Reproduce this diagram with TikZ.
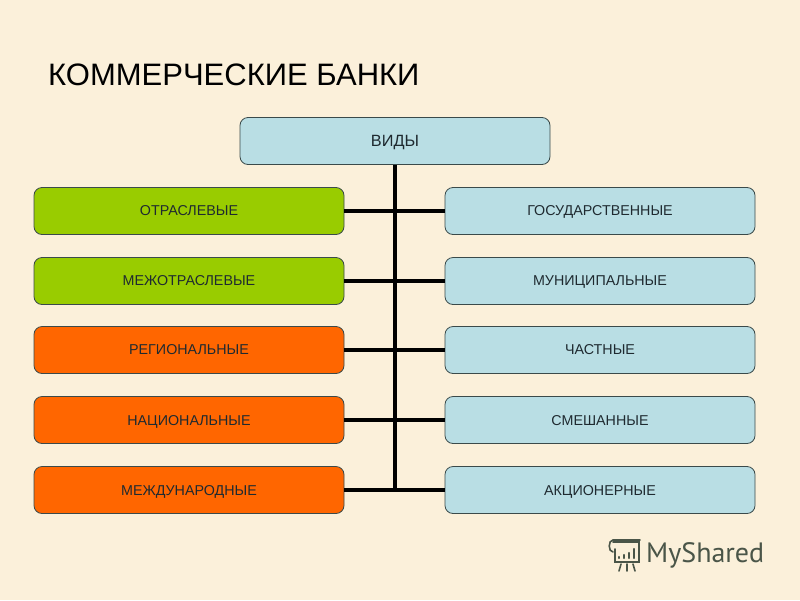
\documentclass[tikz,border=0pt]{standalone}
\usepackage{fontspec}
\setmainfont{Liberation Sans}
\newfontfamily\logofont{PT Sans}
\definecolor{bgc}{HTML}{FBF0DA}
\definecolor{bluebox}{HTML}{B9DEE4}
\definecolor{greenbox}{HTML}{99CC00}
\definecolor{orangebox}{HTML}{FF6600}
\definecolor{edgec}{HTML}{3A4A4A}
\definecolor{txtc}{HTML}{1F2A30}
\definecolor{logoc}{HTML}{4A5548}
\tikzset{
  x=1pt,y=-1pt,
  boxbase/.style={draw=edgec,line width=0.8pt,rounded corners=8pt,minimum height=47pt,inner sep=0pt,text=txtc,text depth=-1pt,font=\fontsize{14.3pt}{16pt}\selectfont},
  sidebox/.style={boxbase,minimum width=310pt},
  blue/.style={fill=bluebox},
  green/.style={fill=greenbox},
  orange/.style={fill=orangebox},
  link/.style={line width=3.6pt,draw=black},
  logo/.style={draw=logoc,line width=1.6pt,line cap=round}
}
\begin{document}
\begin{tikzpicture}
\useasboundingbox (0,0) rectangle (800,600);
\fill[bgc] (0,0) rectangle (800,600);
\node[anchor=west,inner sep=0pt,text=black,font=\fontsize{31pt}{36pt}\selectfont] (title) at (48,75) {КОММЕРЧЕСКИЕ БАНКИ};
\node[boxbase,blue,minimum width=310pt,font=\fontsize{16.3pt}{18pt}\selectfont] (vidy) at (395,141) {ВИДЫ};
\node[sidebox,green] (l1) at (189,211) {ОТРАСЛЕВЫЕ};
\node[sidebox,green] (l2) at (189,281) {МЕЖОТРАСЛЕВЫЕ};
\node[sidebox,orange] (l3) at (189,350) {РЕГИОНАЛЬНЫЕ};
\node[sidebox,orange] (l4) at (189,420) {НАЦИОНАЛЬНЫЕ};
\node[sidebox,orange] (l5) at (189,490) {МЕЖДУНАРОДНЫЕ};
\node[sidebox,blue] (r1) at (600,211) {ГОСУДАРСТВЕННЫЕ};
\node[sidebox,blue] (r2) at (600,281) {МУНИЦИПАЛЬНЫЕ};
\node[sidebox,blue] (r3) at (600,350) {ЧАСТНЫЕ};
\node[sidebox,blue] (r4) at (600,420) {СМЕШАННЫЕ};
\node[sidebox,blue] (r5) at (600,490) {АКЦИОНЕРНЫЕ};
\coordinate (spineend) at (395,491.8);
\draw[link] (vidy.south) -- (spineend);
\foreach \i in {1,...,5}{\draw[link] (l\i.east) -- (r\i.west);}
% MyShared logo
\node[anchor=west,inner sep=0pt,text=logoc,font=\logofont\fontsize{28pt}{30pt}\selectfont] (brand) at (646,555) {MyShared};
\draw[logo] (613,542) -- (639,542) -- (639,562) -- (615,562) -- (615,549);
\draw[logo] (613,540) .. controls (608,540) and (608,552) .. (613,552);
\draw[logo] (613,540) -- (640,540);
\draw[logo,line width=2.4pt] (619,558) -- (619,557) (624,558) -- (624,555) (629,558) -- (629,553) (634,558) -- (634,549);
\draw[logo] (621,564) -- (619,571) (627,564) -- (627,571) (633,564) -- (635,571);
\end{tikzpicture}
\end{document}
